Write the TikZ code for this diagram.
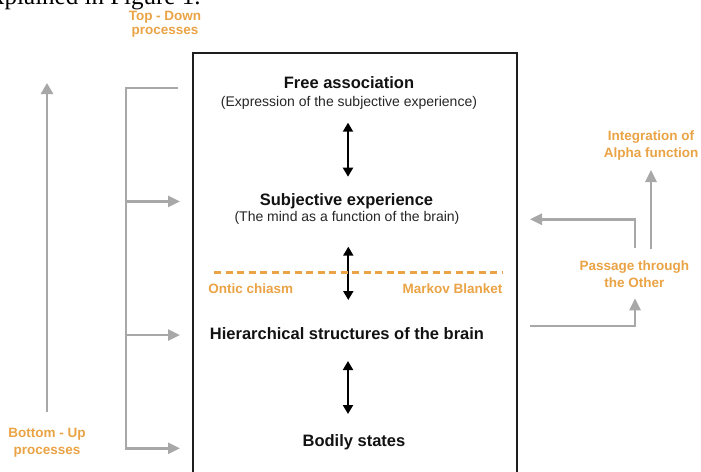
\documentclass[tikz,border=0pt]{standalone}
\usepackage{fontspec}
\setmainfont{Liberation Sans}
\newfontfamily\fragserif{Liberation Serif}
\usetikzlibrary{arrows.meta,calc}
\definecolor{orng}{RGB}{234,163,69}
\definecolor{garr}{RGB}{168,168,168}
\definecolor{boxc}{RGB}{30,30,30}
\begin{document}
\begin{tikzpicture}[x=1pt,y=-1pt,
  title/.style={font=\bfseries\fontsize{16.5}{19}\selectfont, text=black!93, inner sep=0pt, outer sep=0pt, text height=12pt, text depth=3.5pt, anchor=base},
  subt/.style={font=\fontsize{14}{16}\selectfont, text=black!85, inner sep=0pt, outer sep=0pt, text height=10.5pt, text depth=3pt, anchor=base},
  olab/.style={font=\bfseries\fontsize{13.5}{16}\selectfont, text=orng, inner sep=0pt, outer sep=0pt, text height=9.5pt, text depth=3pt, anchor=base},
  garrow/.style={draw=garr, line width=2.6pt, -{Triangle[length=12pt,width=11pt]}},
  darr/.style={draw=black, line width=2pt, {Triangle[length=9pt,width=10pt]}-{Triangle[length=9pt,width=10pt]}},
  odash/.style={draw=orng, line width=2.5pt, dash pattern=on 7pt off 4.5pt},
]
\useasboundingbox (0,0) rectangle (701,471);
\clip (0,0) rectangle (701,471);
\fill[white] (0,0) rectangle (701,471);

% fragment of page text
\node[font=\fragserif\fontsize{25}{25}\selectfont, anchor=base east, inner sep=0pt, outer sep=0pt, text depth=2pt] (frag) at (200.5,5) {explained in Figure 1.};

% main box (open at the bottom of the picture)
\node[draw=boxc, line width=2.3pt, minimum width=324pt, minimum height=460pt, anchor=north west, inner sep=0pt, outer sep=0pt] (box) at (193,53) {};

% texts inside the box
\node[title] (fa) at (349,88.3) {Free association};
\node[subt] (fas) at (349,106) {(Expression of the subjective experience)};
\node[title] (se) at (346.5,205.7) {Subjective experience};
\node[subt] (ses) at (347,221.7) {(The mind as a function of the brain)};
\node[title] (hs) at (347,339.3) {Hierarchical structures of the brain};
\node[title] (bs) at (354,446) {Bodily states};

% double arrows
\draw[darr] ($(348,0 |- fas.south)+(0,13.7)$) -- ($(348,0 |- se.north)+(0,-17)$);
\draw[darr] ($(348.3,0 |- ses.south)+(0,22)$) -- ($(348.3,0 |- hs.north)+(0,-27.3)$);
\draw[darr] ($(348,0 |- hs.south)+(0,18.2)$) -- ($(348,0 |- bs.north)+(0,-20)$);

% Markov blanket
\coordinate (dl) at (214,272.3);
\coordinate (dr) at (502,272.3);
\draw[odash] (dl) -- (dr);
\node[olab, anchor=base west] (oc) at (208.3,293.3) {Ontic chiasm};
\node[olab, anchor=base east] (mb) at (502.3,293.3) {Markov Blanket};

% outer labels
\node[olab] (td1) at (165,20.5) {Top - Down};
\node[olab] (td2) at (165,34.5) {processes};
\node[olab] (bu1) at (47,437.7) {Bottom - Up};
\node[olab] (bu2) at (47,454) {processes};
\node[olab] (in1) at (651,140.7) {Integration of};
\node[olab] (in2) at (651,157.3) {Alpha function};
\node[olab] (pa1) at (634.3,270.7) {Passage through};
\node[olab] (pa2) at (634.3,287.3) {the Other};

% top-down bracket
\coordinate (bTop) at (178,88);
\coordinate (bCor) at (126,88);
\coordinate (bBot) at (126,448.3);
\draw[garrow] (bTop) -- (bCor) -- (bBot) -- ($(bBot -| box.west)+(-13,0)$);
\draw[garrow] (bCor |- se) -- ($(box.west |- se)+(-13,0)$);
\draw[garrow] (bCor |- hs) -- ($(box.west |- hs)+(-13,0)$);

% bottom-up arrow
\coordinate (buTip) at (47,83);
\draw[garrow, -{Triangle[length=11pt,width=12pt]}] ($(bu1.north)+(0,-16.2)$) -- (buTip);

% right side
\draw[garrow] ($(in2.south |- pa1.north)+(0,-11.9)$) -- ($(in2.south)+(0,9.7)$);
\draw[garrow] ($(pa1.north)+(0.7,-13.5)$) |- ($(box.east |- ses)+(13,1.3)$);
\coordinate (pS) at (530,326);
\draw[garrow] (pS) -| ($(pa2.south)+(0.7,8)$);
\end{tikzpicture}
\end{document}
